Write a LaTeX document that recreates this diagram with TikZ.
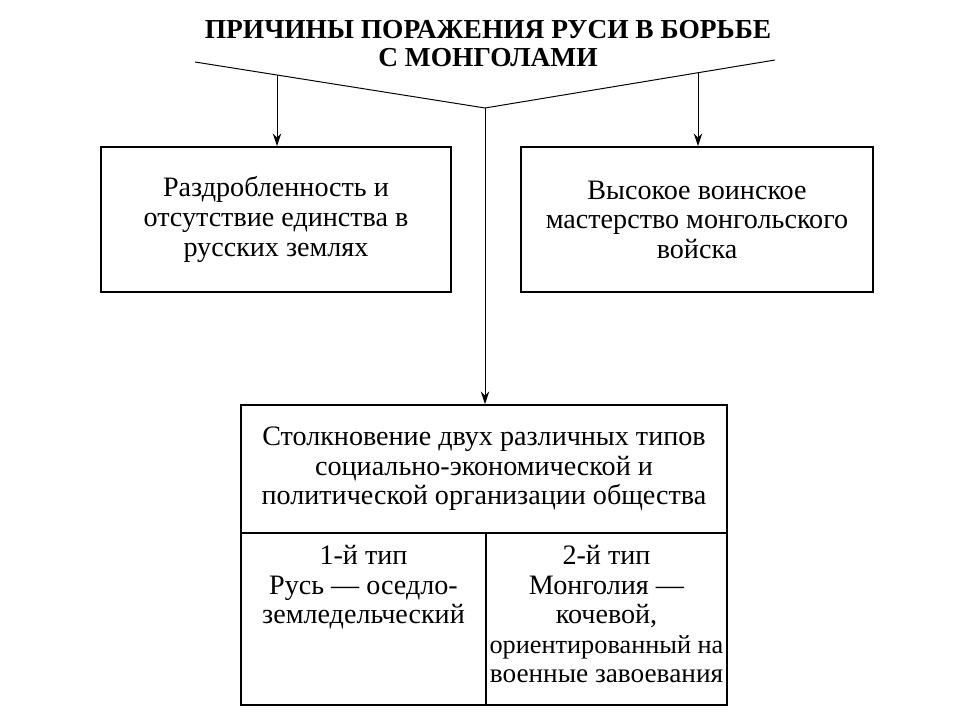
\documentclass[tikz,border=0pt]{standalone}
\usepackage{fontspec}
\setmainfont{Liberation Serif}
\usetikzlibrary{positioning,arrows.meta}

\tikzset{
  box/.style={draw, line width=1.3pt, inner sep=0pt},
  txt/.style={align=center, inner sep=0pt, font=\fontsize{20}{21}\selectfont},
  ttl/.style={align=center, inner sep=0pt, font=\bfseries\fontsize{19.5}{20}\selectfont},
}

\begin{document}
\begin{tikzpicture}[x=0.025cm, y=-0.025cm]
  \useasboundingbox (0,0) rectangle (960,720);

  \node (title) [ttl] at (488,44)
    {ПРИЧИНЫ ПОРАЖЕНИЯ РУСИ В БОРЬБЕ\\С МОНГОЛАМИ};

  % branching line under the title
  \coordinate (lend) at (195,62);
  \coordinate (apex) at (485,108);
  \coordinate (rend) at (775,60);
  \coordinate (lfork) at (277,75);
  \coordinate (rfork) at (698,73);
  \draw[line width=0.7pt] (lend) -- (apex) -- (rend);

  \node (split) [box, txt, minimum width=8.75cm, minimum height=3.625cm] at (276,219.5)
    {Раздробленность и\\отсутствие единства в\\русских землях};
  \node (skill) [box, txt, minimum width=8.8cm, minimum height=3.625cm] at (697,219.5)
    {Высокое воинское\\мастерство монгольского\\войска};

  \node (clash) [box, txt, minimum width=12.15cm, minimum height=3.2cm] at (484,469)
    {Столкновение двух различных типов\\социально-экономической и\\политической организации общества};
  \node (rus) [box, minimum width=6.125cm, minimum height=4.3cm] at (363.5,619) {};
  \node (mong) [box, minimum width=6.025cm, minimum height=4.3cm] at (606.5,619) {};
  \node (rustxt) [txt, anchor=north] at (rus.north |- 0,545)
    {1-й тип\\Русь — оседло-\\земледельческий};
  \node (mongtxt) [txt, anchor=north] at (mong.north |- 0,545)
    {2-й тип\\Монголия —\\кочевой,\\{\fontsize{18.7}{21}\selectfont ориентированный на}\\{\fontsize{19.4}{21}\selectfont военные завоевания}};

  \path[-{Stealth[length=9pt,width=6pt]}, line width=0.7pt]
    (lfork) edge (lfork |- split.north)
    (rfork) edge (rfork |- skill.north)
    (apex) edge (apex |- clash.north);
\end{tikzpicture}
\end{document}
